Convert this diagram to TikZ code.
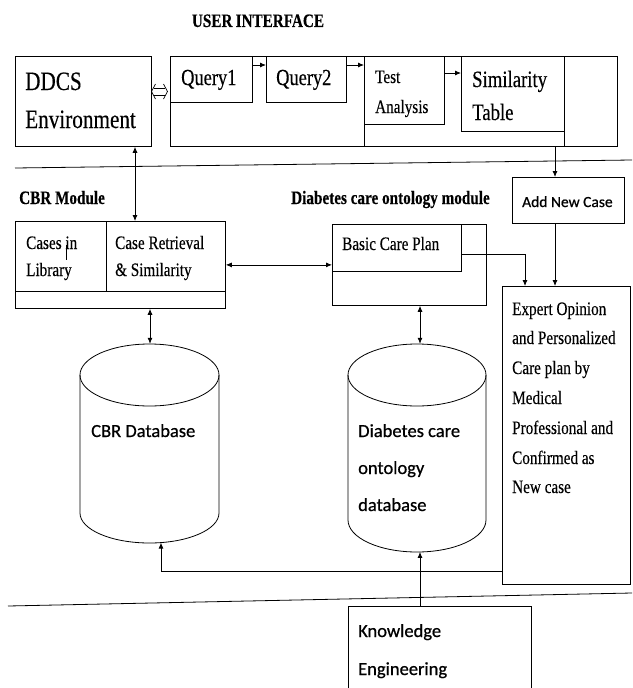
\documentclass[tikz,border=0pt]{standalone}
\usepackage{fontspec}
\setmainfont{Liberation Serif}
\newfontfamily\tnr[FakeStretch=0.8,FakeBold=0.3]{Liberation Serif}
\newfontfamily\calf[FakeBold=0.7]{Carlito}
\usetikzlibrary{arrows.meta}
\begin{document}
\begin{tikzpicture}[x=1pt,y=-1pt,
  box/.style={draw, line width=0.8pt, inner sep=0pt, anchor=north west},
  ghost/.style={inner sep=0pt},
  lbl/.style={anchor=base west, inner sep=0pt},
  con/.style={line width=0.8pt, -{Latex[length=6pt,width=5pt]}},
  bicon/.style={line width=0.8pt, {Latex[length=6pt,width=5pt]}-{Latex[length=6pt,width=5pt]}},
  plain/.style={line width=0.8pt},
  serifA/.style={font=\tnr\fontsize{19}{21}\selectfont},
  sansA/.style={font=\calf\fontsize{18.5}{20}\selectfont},
  titleA/.style={font=\tnr\bfseries\fontsize{19}{21}\selectfont}
  ]
\useasboundingbox (0,0) rectangle (632,688);
\fill[white] (0,0) rectangle (632,688);

% helper coordinates for levels
\coordinate (y65) at (0,65);
\coordinate (y73) at (0,73);
\coordinate (y254) at (0,254);
\coordinate (y571) at (0,571);
\coordinate (x135) at (135,0);
\coordinate (x150) at (150,0);
\coordinate (x420) at (420,0);
\coordinate (x555) at (555,0);
\coordinate (x525) at (525,0);

% title
\node[titleA, anchor=base, inner sep=0pt] (title) at (258,27) {USER\,INTERFACE};

% user interface row
\node[box, minimum width=136pt, minimum height=90pt] (ddcs) at (15,56) {};
\node[lbl, font=\tnr\fontsize{26.5}{28}\selectfont] (ddcst1) at (25,90) {DDCS};
\node[lbl, font=\tnr\fontsize{26.5}{28}\selectfont] (ddcst2) at (25,128) {Environment};

\node[box, minimum width=447pt, minimum height=90pt] (ui) at (170,56) {};
\node[box, minimum width=82pt, minimum height=46pt] (q1) at (170,56) {};
\node[lbl, font=\tnr\fontsize{23}{24}\selectfont] (q1t) at (181,85) {Query1};
\node[box, minimum width=80pt, minimum height=46pt] (q2) at (266,56) {};
\node[lbl, font=\tnr\fontsize{23}{24}\selectfont] (q2t) at (276,85) {Query2};
\node[box, minimum width=80pt, minimum height=68pt] (test) at (364,56) {};
\node[lbl, font=\tnr\fontsize{19}{20}\selectfont] (testt1) at (375,83) {Test};
\node[lbl, font=\tnr\fontsize{19}{20}\selectfont] (testt2) at (375,113) {Analysis};
\node[box, minimum width=103pt, minimum height=75pt] (sim) at (461,56) {};
\node[lbl, font=\tnr\fontsize{23.4}{24}\selectfont] (simt1) at (472,87) {Similarity};
\node[lbl, font=\tnr\fontsize{23.4}{24}\selectfont] (simt2) at (472,120) {Table};
\draw[plain] (test.south west) -- (test.south west |- ui.south);
\draw[plain] (sim.south east) -- (sim.south east |- ui.south);

\draw[con] (q1.east |- y65) -- (q2.west |- y65);
\draw[con] (q2.east |- y65) -- (test.west |- y65);
\draw[con] (test.east |- y73) -- (sim.west |- y73);

% hollow double arrow between DDCS and UI
\draw[line width=0.7pt] (154,88) -- (165,88) (154,95) -- (165,95);
\draw[line width=0.7pt] (155.5,84) -- (151.5,91.5) -- (155.5,99);
\draw[line width=0.7pt] (163.5,84) -- (167.5,91.5) -- (163.5,99);

% separator 1
\draw[plain] (15,168) -- (632,160);

% CBR module
\node[titleA, lbl] (cbrtitle) at (19,204) {CBR Module};
\node[box, minimum width=210pt, minimum height=87pt] (cbr) at (15,221) {};
\draw[plain] (106,221) -- (106,291);
\draw[plain] (15,291) -- (225,291);
\node[lbl, serifA] (cbrt1) at (26,249) {Cases in};
\node[lbl, serifA] (cbrt2) at (26,276) {Library};
\draw[line width=0.9pt] (66,245) -- (66,260);
\node[lbl, serifA] (cbrt3) at (115,249) {Case Retrieval};
\node[lbl, serifA] (cbrt4) at (115,276) {\& Similarity};

\draw[bicon] (ddcs.south -| x135) -- (cbr.north -| x135);

% ontology module
\node[titleA, lbl] (ontotitle) at (291,204) {Diabetes care ontology module};
\node[box, minimum width=154pt, minimum height=81pt] (onto) at (332,224) {};
\node[box, minimum width=129pt, minimum height=47pt] (bcp) at (332,224) {};
\node[lbl, serifA] (bcpt) at (342,250) {Basic Care Plan};

\draw[bicon] (cbr.east) -- (onto.west);

% add new case & expert
\node[box, minimum width=112pt, minimum height=46pt] (addnew) at (512,177) {};
\node[lbl, font=\calf\fontsize{15.5}{18}\selectfont] (addnewt) at (522,207) {Add New Case};
\node[box, minimum width=128pt, minimum height=298pt] (expert) at (502,286) {};
\node[lbl, serifA] (ex1) at (512,315) {Expert Opinion};
\node[lbl, serifA] (ex2) at (512,344) {and Personalized};
\node[lbl, serifA] (ex3) at (512,374) {Care plan by};
\node[lbl, serifA] (ex4) at (512,404) {Medical};
\node[lbl, serifA] (ex5) at (512,434) {Professional and};
\node[lbl, serifA] (ex6) at (512,464) {Confirmed as};
\node[lbl, serifA] (ex7) at (512,493) {New case};

\draw[con] (ui.south -| x555) -- (addnew.north -| x555);
\draw[con] (addnew.south -| x555) -- (expert.north -| x555);
\draw[con] (bcp.east |- y254) -| (expert.north -| x525);

% databases
\node[ghost, minimum width=139pt, minimum height=199pt] (cbrdb) at (149.5,443.5) {};
\draw[plain] (149.5,375) ellipse [x radius=69.5, y radius=31];
\draw[plain] (80,375) -- (80,513) arc[start angle=180, end angle=0, x radius=69.5, y radius=30] -- (219,375);
\node[lbl, sansA] (cbrdbt) at (91,437) {CBR Database};
\coordinate (cbrbot) at (161,542.6);

\node[ghost, minimum width=138pt, minimum height=208pt] (ontodb) at (417,448) {};
\draw[plain] (417,375) ellipse [x radius=69, y radius=31];
\draw[plain] (348,375) -- (348,520) arc[start angle=180, end angle=0, x radius=69, y radius=32] -- (486,375);
\node[lbl, sansA] (odb1) at (358,437) {Diabetes care};
\node[lbl, sansA] (odb2) at (358,474) {ontology};
\node[lbl, sansA] (odb3) at (358,511) {database};
\coordinate (ontobot) at (420,551.9);

\draw[bicon] (cbr.south -| x150) -- (cbrdb.north -| x150);
\draw[bicon] (onto.south -| x420) -- (ontodb.north -| x420);

\draw[con] (expert.west |- y571) -| (cbrbot);

% separator 2
\draw[plain] (8,606) -- (632,593);

% knowledge engineering
\node[box, minimum width=183pt, minimum height=100pt] (ke) at (348,606) {};
\node[lbl, sansA] (ket1) at (358,637) {Knowledge};
\node[lbl, sansA] (ket2) at (358,675) {Engineering};
\draw[con] (ke.north -| x420) -- (ontobot);
\end{tikzpicture}
\end{document}
